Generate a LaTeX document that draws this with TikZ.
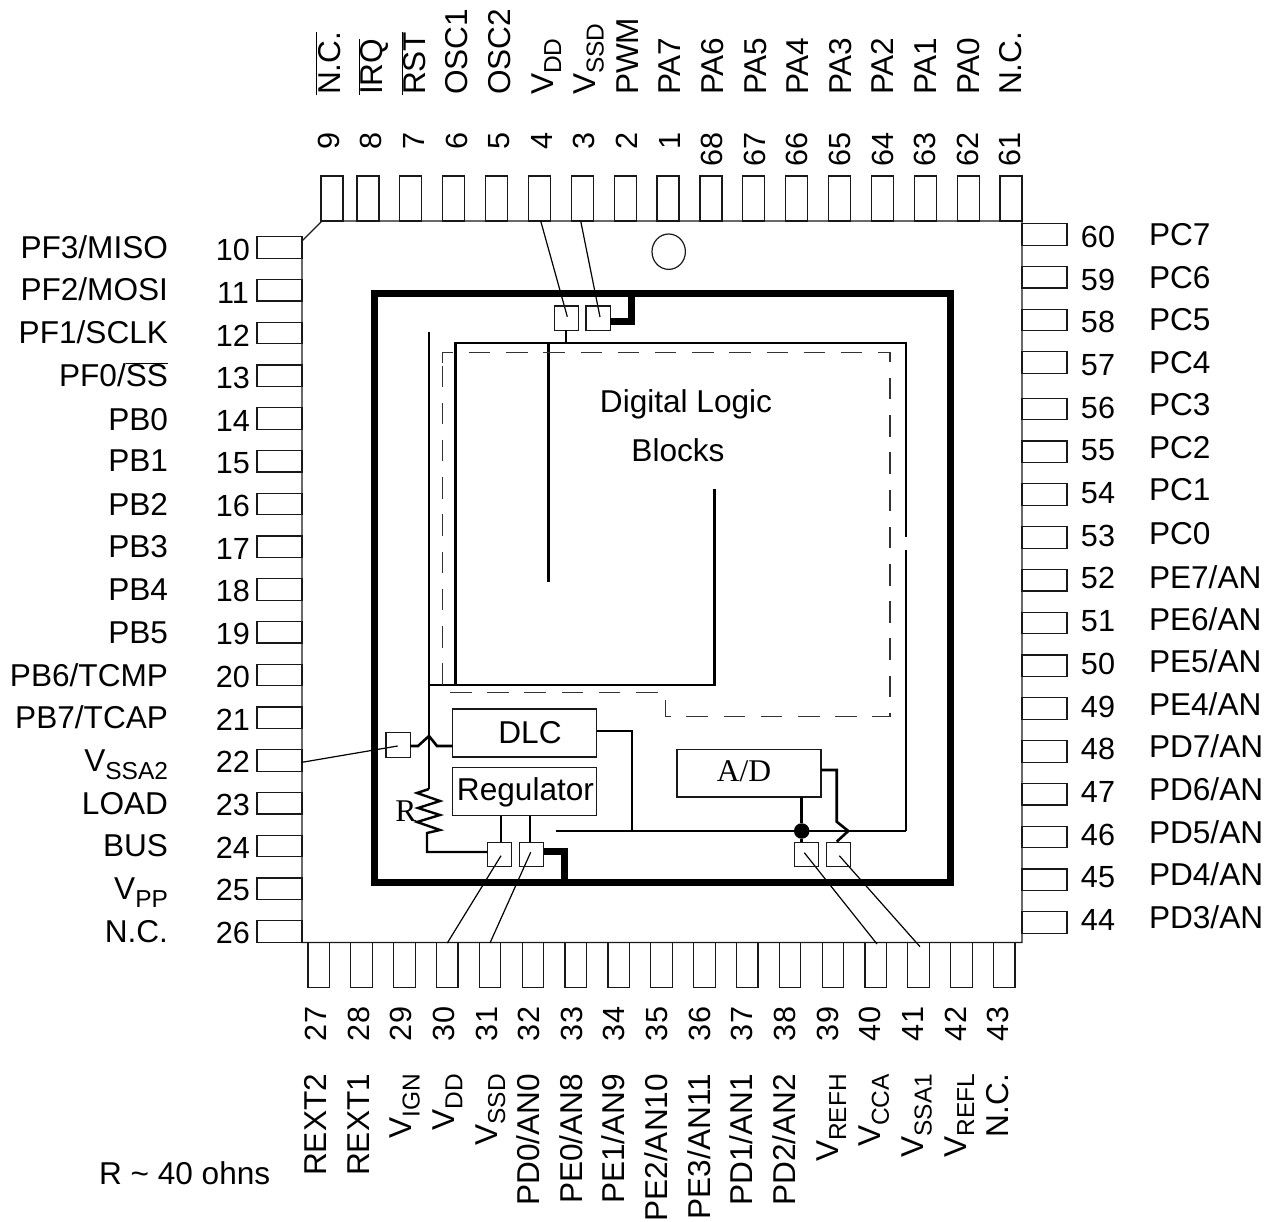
\documentclass[tikz,border=0pt]{standalone}
\usepackage{fontspec}
\usetikzlibrary{shapes.geometric}
\setmainfont{Liberation Sans}
\newfontfamily\timesf{Liberation Serif}
\newcommand{\lbl}{\fontsize{31.6}{31.6}\selectfont}
\newcommand{\numf}{\fontsize{30.6}{30.6}\selectfont}
\newcommand{\sbs}[1]{\raisebox{-8pt}{\fontsize{24.5}{24.5}\selectfont #1}}
\newcommand{\ovl}[1]{$\overline{\hbox{#1}}$}
\tikzset{
  thinl/.style={line width=1.2pt,black!90},
  wire/.style={line width=2.6pt,black,line join=miter},
  heavy/.style={line width=7pt,black,line join=miter},
  bond/.style={line width=1.2pt,black},
  pad/.style={draw,thinl,minimum width=24.4pt,minimum height=24.4pt,inner sep=0pt,outer sep=0pt},
  block/.style={draw,thinl,minimum width=144pt,minimum height=48pt,inner sep=0pt,outer sep=0pt},
  pinbox/.style={draw,thinl,inner sep=0pt,outer sep=0pt},
  txt/.style={inner sep=0pt,outer sep=0pt,font=\lbl},
  numtxt/.style={inner sep=0pt,outer sep=0pt,font=\numf},
  rotup/.style={inner sep=0pt,outer sep=0pt,font=\lbl,rotate=90},
  rotnum/.style={inner sep=0pt,outer sep=0pt,font=\numf,rotate=90},
}
\begin{document}
\begin{tikzpicture}[x=1pt,y=-1pt]
\useasboundingbox (0,0) rectangle (1270,1222);

% package body
\draw[thinl] (322,221) -- (1022,221) -- (1022,942.5) -- (302,942.5) -- (302,241) -- cycle;

% top pins
\node[pinbox,minimum width=22pt,minimum height=45pt] (tp9) at (332,198.5) {};
\foreach \n/\i in {8/0,7/1,6/2,5/3,4/4,3/5,2/6,1/7,68/8,67/9,66/10,65/11,64/12,63/13,62/14,61/15}
  \node[pinbox,minimum width=22pt,minimum height=45pt] (tp\n) at ({368+42.87*\i},198.5) {};

% left pins
\foreach \n/\i in {10/0,11/1,12/2,13/3,14/4,15/5,16/6,17/7,18/8,19/9,20/10,21/11,22/12,23/13,24/14,25/15,26/16}
  \node[pinbox,minimum width=45pt,minimum height=21.5pt] (lp\n) at (279.5,{247.5+42.75*\i}) {};

% right pins
\foreach \n/\i in {60/0,59/1,58/2,57/3}
  \node[pinbox,minimum width=45pt,minimum height=21.5pt] (rp\n) at (1044.5,{234.5+42.7*\i}) {};
\foreach \n/\i in {56/0,55/1,54/2,53/3,52/4,51/5,50/6,49/7,48/8,47/9,46/10,45/11,44/12}
  \node[pinbox,minimum width=45pt,minimum height=21.5pt] (rp\n) at (1044.5,{409+42.8*\i}) {};

% bottom pins
\foreach \n/\i in {27/0,28/1,29/2,30/3,31/4,32/5,33/6,34/7,35/8,36/9,37/10,38/11,39/12,40/13,41/14,42/15,43/16}
  \node[pinbox,minimum width=21.5pt,minimum height=45pt] (bp\n) at ({318.7+42.85*\i},965) {};

% top numbers
\foreach \n/\i in {9/0,8/1,7/2,6/3,5/4,4/5,3/6,2/7,1/8,68/9,67/10,66/11,65/12,64/13,63/14,62/15,61/16}
  \node[rotnum,anchor=base east] (tn\n) at ({339.3+42.6*\i},132.7) {\n};

% bottom numbers
\foreach \n/\i in {27/0,28/1,29/2,30/3,31/4,32/5,33/6,34/7,35/8,36/9,37/10,38/11,39/12,40/13,41/14,42/15,43/16}
  \node[rotnum,anchor=base west] (bn\n) at ({326.4+42.65*\i},1041) {\n};

% left numbers
\foreach \n/\i in {10/0,11/1,12/2,13/3,14/4,15/5,16/6,17/7,18/8,19/9,20/10,21/11,22/12,23/13,24/14,25/15,26/16}
  \node[numtxt] (ln\n) at (233,{250+42.68*\i}) {\n};

% right numbers
\foreach \n/\i in {60/0,59/1,58/2,57/3,56/4,55/5,54/6,53/7,52/8,51/9,50/10,49/11,48/12,47/13,46/14,45/15,44/16}
  \node[numtxt] (rn\n) at (1098,{237+42.68*\i}) {\n};

% top labels
\foreach \k/\i/\t in {a/0/{\ovl{N.C.}},b/1/{\ovl{IRQ}},c/2/{\ovl{RST}},d/3/{OSC1},e/4/{OSC2},f/5/{V\sbs{DD}},g/6/{V\sbs{SSD}},h/7/{PWM},i/8/{PA7},j/9/{PA6},k/10/{PA5},l/11/{PA4},m/12/{PA3},n/13/{PA2},o/14/{PA1},p/15/{PA0},q/16/{N.C.}}
  \node[rotup,anchor=base west] (tl\k) at ({340+42.6*\i},95) {\t};

% bottom labels
\foreach \k/\i/\t in {a/0/{REXT2},b/1/{REXT1},c/2/{V\sbs{IGN}},d/3/{V\sbs{DD}},e/4/{V\sbs{SSD}},f/5/{PD0/AN0},g/6/{PE0/AN8},h/7/{PE1/AN9},i/8/{PE2/AN10},j/9/{PE3/AN11},k/10/{PD1/AN1},l/11/{PD2/AN2},m/12/{V\sbs{REFH}},n/13/{V\sbs{CCA}},o/14/{V\sbs{SSA1}},p/15/{V\sbs{REFL}},q/16/{N.C.}}
  \node[rotup,anchor=base east] (bl\k) at ({326.4+42.65*\i},1074) {\t};

% left labels
\foreach \k/\y/\t in {a/248/{PF3/MISO},b/290/{PF2/MOSI},c/333/{PF1/SCLK},d/376/{PF0/\ovl{SS}},e/420/{PB0},f/461/{PB1},g/504/{PB2},h/547/{PB3},i/589/{PB4},j/632/{PB5},k/675/{PB6/TCMP},l/717/{PB7/TCAP},m/760/{V\sbs{SSA2}},n/803/{LOAD},o/845/{BUS},p/888/{V\sbs{PP}},q/931/{N.C.}}
  \node[txt,anchor=base east] (ll\k) at (168,{\y+11}) {\t};

% right labels
\foreach \k/\y/\t in {a/235/{PC7},b/278/{PC6},c/320/{PC5},d/363/{PC4},e/405/{PC3},f/448/{PC2},g/490/{PC1},h/533/{PC0},i/577/{PE7/AN},j/619/{PE6/AN},k/661/{PE5/AN},l/704/{PE4/AN},m/746/{PD7/AN},n/789/{PD6/AN},o/832/{PD5/AN},p/874/{PD4/AN},q/917/{PD3/AN}}
  \node[txt,anchor=base west] (rl\k) at (1149,{\y+11}) {\t};

% orientation mark
\node[draw,thinl,ellipse,minimum width=33.4pt,minimum height=35.4pt,inner sep=0pt] (mark) at (668.7,251.7) {};

% bond wire free ends
\coordinate (w1a) at (540.7,221);  \coordinate (w1b) at (567.3,316.7);
\coordinate (w2a) at (580.7,221);  \coordinate (w2b) at (600,317);
\coordinate (w3a) at (302,762.3);  \coordinate (w3b) at (397.7,746);
\coordinate (w4a) at (447.3,943);  \coordinate (w4b) at (501,855.7);
\coordinate (w5a) at (490,943);    \coordinate (w5b) at (530.7,852.3);
\coordinate (w6a) at (877,944);    \coordinate (w6b) at (804.3,852.7);
\coordinate (w7a) at (920,946.7);  \coordinate (w7b) at (839.3,855.7);
\foreach \a/\b in {w1a/w1b,w2a/w2b,w3a/w3b,w4a/w4b,w5a/w5b,w6a/w6b,w7a/w7b}
  \draw[bond] (\a) -- (\b);

% pads
\node[pad] (pa) at (566.3,318.2) {};
\node[pad] (pb) at (598.2,318.2) {};
\node[pad] (pc) at (398.2,744.9) {};
\node[pad] (pd) at (499.5,854.5) {};
\node[pad] (pe) at (531.5,854.5) {};
\node[pad] (pf) at (806.3,854.5) {};
\node[pad] (pg) at (838.3,854.5) {};

% heavy die outline
\coordinate (d1) at (374.5,293.7); \coordinate (d2) at (950.5,882.3);
\draw[heavy] (d1) rectangle (d2);
\coordinate (h1) at (631,293.7);
\draw[heavy] (pb.east |- 0,321.7) -| (h1);
\coordinate (h2) at (564,882.3);
\draw[heavy] (pe.east |- 0,851.7) -| (h2);

% blocks
\node[block] (dlc) at (524.7,733) {};
\node[txt] (dlct) at (530,733) {DLC};
\node[block] (reg) at (524.7,791.7) {};
\node[txt] (regt) at (525.5,792) {Regulator};
\node[block,minimum height=47.7pt] (ad) at (749,773.2) {};
\node[txt,font=\timesf\lbl] (adt) at (744,771) {A/D};

% logic wiring
\coordinate (n1) at (566,343);
\coordinate (nl) at (455.5,343);
\coordinate (nr) at (906,343);
\coordinate (nr1) at (906,536.7);
\coordinate (nr2) at (906,550);
\coordinate (nr3) at (906,831);
\coordinate (nb) at (455.5,685);
\coordinate (vr) at (714.3,685);
\coordinate (vrt) at (714.3,489);
\coordinate (vl) at (548.7,343);
\coordinate (vlb) at (548.7,582);
\coordinate (rt) at (429,331.7);
\coordinate (rb) at (429,789);
\coordinate (rh) at (429,685);
\draw[wire] (pa.south -| n1) -- (n1);
\draw[wire] (nb) -- (nl) -- (nr) -- (nr1);
\draw[wire] (nr2) -- (nr3);
\draw[wire] (rh) -- (vr) -- (vrt);
\draw[wire] (vl) -- (vlb);
\draw[wire] (rt) -- (rb);
% resistor
\draw[wire,line width=2.4pt] (rb) -- (417,793) -- (440,801) -- (418,808) -- (440,815) -- (417,822) -- (440,830) -- (427,833) -- (427,852) -- (pd.west |- 0,852);
\node[txt,font=\timesf\lbl] (rlab) at (406,811) {R};
% DLC hop
\draw[wire] (pc.east |- 0,746) -- (418,746) -- (429,736) -- (437,746) -- (dlc.west |- 0,746);
% regulator to pads
\draw[wire] (reg.south -| 501,0) -- (pd.north -| 501,0);
\draw[wire] (reg.south -| 530,0) -- (pe.north -| 530,0);
% bus to analog
\coordinate (bs) at (555.7,831);
\draw[wire] (bs) -- (nr3);
\draw[wire] (dlc.east |- 0,731) -- (632,731) -- (632,831);
% A/D
\node[circle,fill=black,minimum size=15.5pt,inner sep=0pt,outer sep=0pt] (dot) at (801.7,831) {};
\draw[wire] (ad.south -| dot) -- (dot);
\draw[wire] (dot) -- (pf.north -| dot);
\draw[wire] (ad.east |- 0,770) -- (836.7,770) -- (836.7,821.7) -- (848.3,831) -- (836.7,841.7);

% dashed digital region
\draw[line width=1.5pt,black!80,dash pattern=on 21.5pt off 15.7pt,line join=miter]
  (442.3,363.3) -- (442.3,352.7) -- (890,352.7) -- (890,716.7) -- (665.7,716.7) -- (665.7,692.7) -- (442.3,692.7) -- cycle;

% texts
\node[txt] (dl1) at (686,404.5) {Digital Logic};
\node[txt] (dl2) at (678,450) {Blocks};
\node[txt,anchor=base west] (note) at (99,1184) {R \textasciitilde{} 40 ohns};
\end{tikzpicture}
\end{document}
